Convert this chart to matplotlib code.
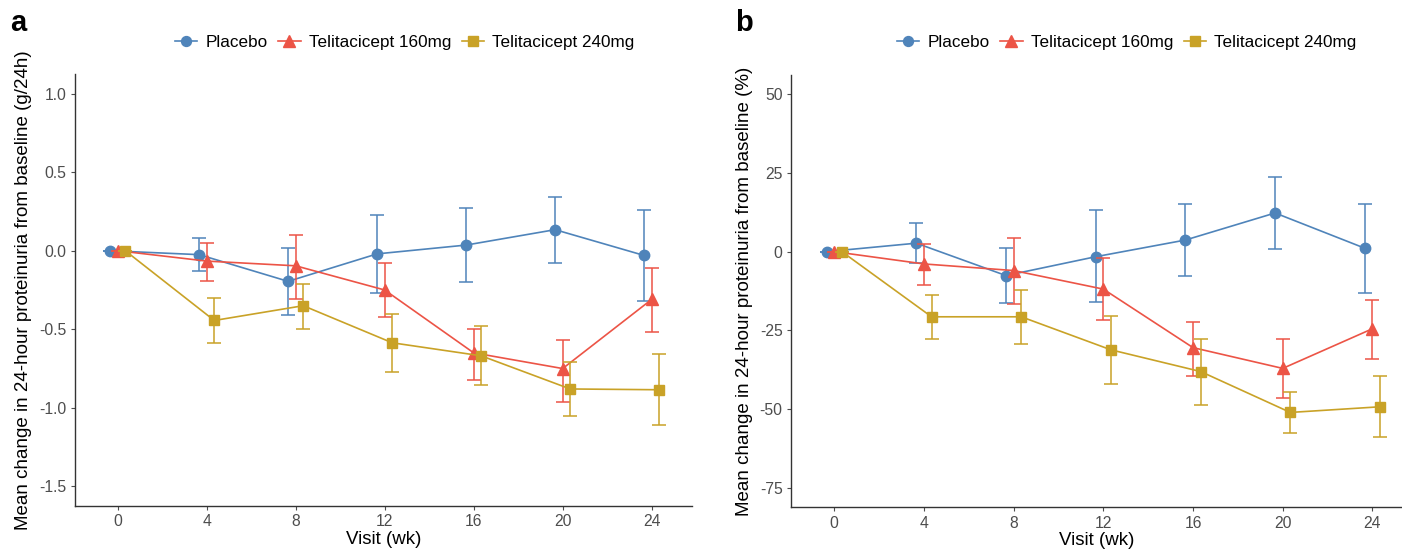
import matplotlib
matplotlib.use("Agg")
import matplotlib.pyplot as plt
from matplotlib.lines import Line2D
import numpy as np

plt.rcParams['font.family'] = ['Liberation Sans', 'DejaVu Sans']

# ---------- data ----------
weeks = [0, 4, 8, 12, 16, 20, 24]
groups = ["Placebo", "Telitacicept 160mg", "Telitacicept 240mg"]

# panel a: change in g/24h
placebo_a = [0, -0.025, -0.195, -0.02, 0.036, 0.134, -0.03]
placebo_a_lo = [0, -0.13, -0.41, -0.27, -0.20, -0.076, -0.32]
placebo_a_hi = [0, 0.08, 0.02, 0.23, 0.27, 0.34, 0.26]
t160_a = [0, -0.066, -0.096, -0.25, -0.65, -0.75, -0.31]
t160_a_lo = [0, -0.19, -0.31, -0.42, -0.82, -0.96, -0.52]
t160_a_hi = [0, 0.05, 0.10, -0.08, -0.50, -0.57, -0.11]
t240_a = [0, -0.444, -0.35, -0.586, -0.669, -0.88, -0.885]
t240_a_lo = [0, -0.586, -0.497, -0.774, -0.857, -1.05, -1.11]
t240_a_hi = [0, -0.30, -0.21, -0.40, -0.48, -0.71, -0.66]

# panel b: change in %
placebo_b = [0, 2.7, -7.6, -1.6, 3.7, 12.3, 1.1]
placebo_b_lo = [0, -3.7, -16.4, -16.0, -7.8, 1.0, -13.1]
placebo_b_hi = [0, 9.0, 1.2, 13.1, 15.2, 23.7, 15.2]
t160_b = [0, -3.9, -6.0, -11.9, -30.5, -37.1, -24.5]
t160_b_lo = [0, -10.7, -16.6, -21.6, -39.5, -46.5, -34.1]
t160_b_hi = [0, 2.5, 4.5, -2.1, -22.4, -27.8, -15.5]
t240_b = [0, -20.7, -20.7, -31.2, -38.1, -51.1, -49.3]
t240_b_lo = [0, -27.7, -29.3, -42.2, -48.7, -57.5, -59.0]
t240_b_hi = [0, -13.9, -12.1, -20.4, -27.8, -44.5, -39.5]

colors = ["#4F84BA", "#EC5446", "#C9A227"]
markers = ["o", "^", "s"]
msizes = [7.5, 8.5, 7.5]
dodge = [-0.34, 0.0, 0.34]


def draw_panel(ax, series, yticks, ylim, ylabel, tick_fmt):
    x = np.array(weeks, dtype=float)
    for i, (mean, lo, hi) in enumerate(series):
        mean = np.array(mean)
        err = [mean - np.array(lo), np.array(hi) - mean]
        ax.errorbar(x + dodge[i], mean, yerr=err, color=colors[i], marker=markers[i],
                    ms=msizes[i], lw=1.2, elinewidth=1.1, capsize=5, capthick=1.1,
                    zorder=3 + i)
    ax.set_xlim(-1.92, 25.8)
    ax.set_ylim(*ylim)
    ax.set_xticks(weeks)
    ax.set_yticks(yticks)
    ax.set_yticklabels([tick_fmt(v) for v in yticks])
    for s in ["top", "right"]:
        ax.spines[s].set_visible(False)
    for s in ["left", "bottom"]:
        ax.spines[s].set_color("#333333")
        ax.spines[s].set_linewidth(1.0)
    ax.tick_params(colors="#4D4D4D", labelsize=11.3, length=3, width=0.8, pad=3)
    ax.set_xlabel("Visit (wk)", fontsize=13.5, labelpad=1)
    ax.set_ylabel(ylabel, fontsize=13.5, labelpad=5)


fig = plt.figure(figsize=(14.02, 5.52), dpi=100)
W, H = 1402, 552
ax_a = fig.add_axes([75 / W, 1 - 506 / H, (691.7 - 75) / W, 432 / H])
ax_b = fig.add_axes([791 / W, 1 - 507.3 / H, (1402 - 791) / W, 432.6 / H])

draw_panel(ax_a,
           [(placebo_a, placebo_a_lo, placebo_a_hi),
            (t160_a, t160_a_lo, t160_a_hi),
            (t240_a, t240_a_lo, t240_a_hi)],
           [-1.5, -1.0, -0.5, 0.0, 0.5, 1.0], (-1.625, 1.125),
           "Mean change in 24-hour proteinuria from baseline (g/24h)",
           lambda v: f"{v:.1f}")
draw_panel(ax_b,
           [(placebo_b, placebo_b_lo, placebo_b_hi),
            (t160_b, t160_b_lo, t160_b_hi),
            (t240_b, t240_b_lo, t240_b_hi)],
           [-75, -50, -25, 0, 25, 50], (-81.25, 56.25),
           "Mean change in 24-hour proteinuria from baseline (%)",
           lambda v: f"{v:d}")
ax_b.set_xlim(-1.93, 25.32)

# legends on top (line + marker only)
handles = [Line2D([], [], color=colors[i], marker=markers[i], ms=msizes[i] * 0.95, lw=1.2)
           for i in range(3)]
for cx in [405, 1127]:
    fig.legend(handles, groups, loc="center", bbox_to_anchor=(cx / W, 1 - 42 / H), ncol=3,
               frameon=False, fontsize=12.3, handlelength=1.3, handletextpad=0.5,
               columnspacing=0.6)

fig.text(10 / W, 1 - 23 / H, "a", fontsize=21, fontweight="bold", va="center", ha="left")
fig.text(735 / W, 1 - 23 / H, "b", fontsize=21, fontweight="bold", va="center", ha="left")

fig.savefig("out.png", dpi=100)
